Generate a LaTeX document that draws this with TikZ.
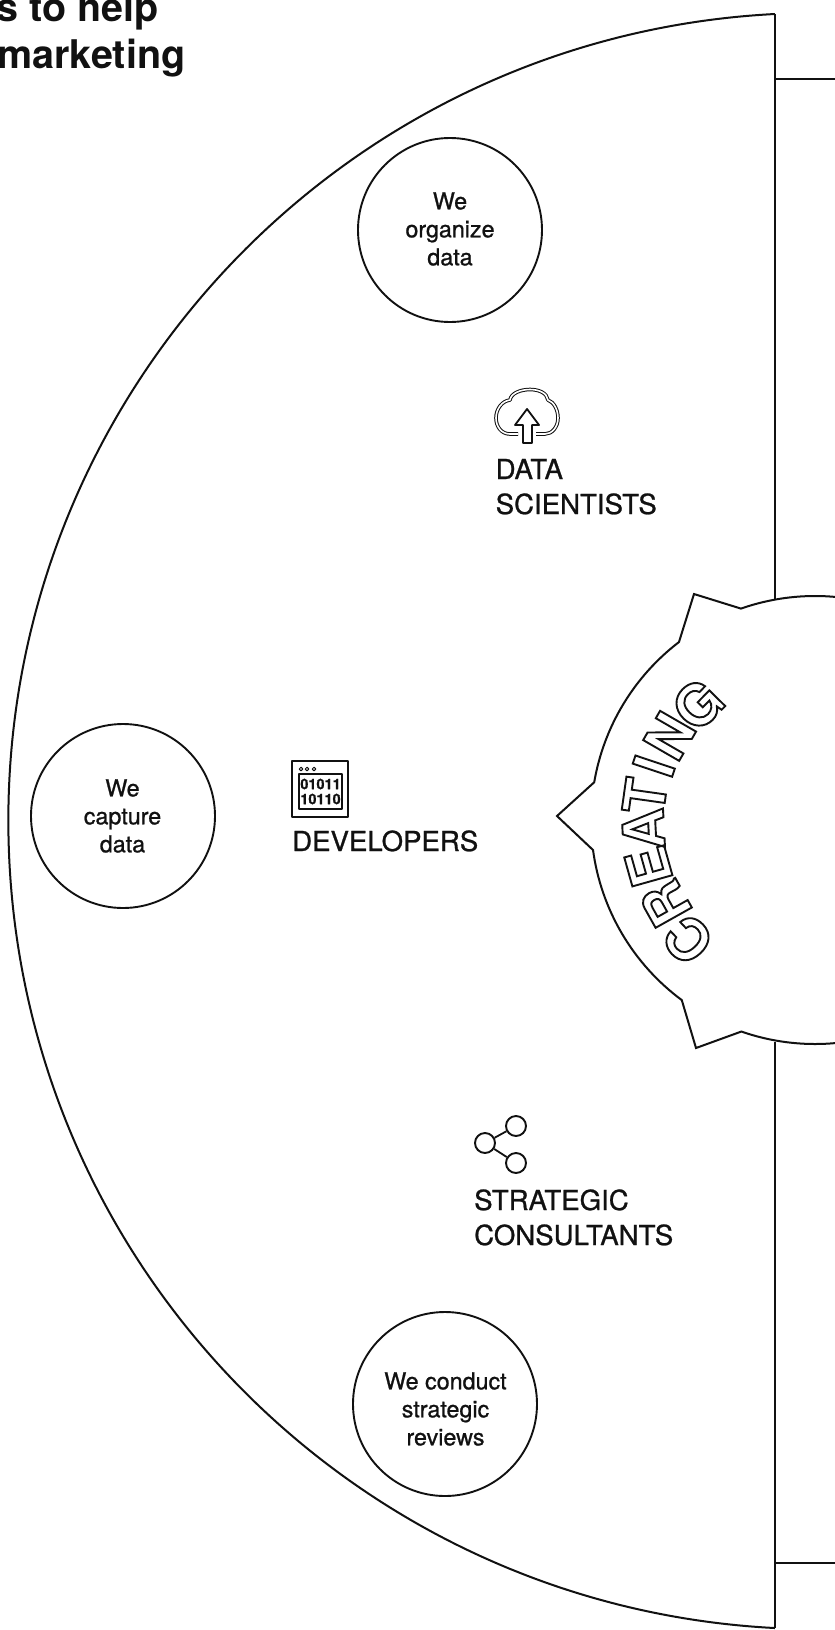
\documentclass[tikz,border=0pt]{standalone}
\usepackage{fontspec}
\setmainfont{TeX Gyre Heros}
\newfontfamily\scanfont[FakeBold=0.9]{TeX Gyre Heros}
\usepackage{xcolor}
\usetikzlibrary{calc}
\definecolor{ScanInk}{HTML}{111111}
\newcommand{\hollow}[1]{\special{pdf:code q 1 Tr 1.9 w 0.07 0.07 0.07 RG}#1\special{pdf:code Q}}
\tikzset{
  frameline/.style={line width=2pt,draw=ScanInk},
  stepcircle/.style={circle,draw=ScanInk,line width=1.9pt,minimum size=184pt,inner sep=0pt},
  steptext/.style={inner sep=0pt,align=center,text=ScanInk,font=\scanfont\fontsize{23.3}{28}\selectfont},
  rolelabel/.style={anchor=base west,inner sep=0pt,align=left,text=ScanInk,font=\scanfont\fontsize{27.6}{35}\selectfont},
  headline/.style={anchor=base east,inner sep=0pt,text=ScanInk,font=\bfseries\fontsize{39.5}{46}\selectfont},
  arcletter/.style={inner sep=0pt,text depth=0pt,font=\bfseries\fontsize{57}{57}\selectfont},
  iconline/.style={line width=1.8pt,draw=ScanInk,line join=round},
  sharedot/.style={circle,draw=ScanInk,line width=1.9pt,minimum size=20pt,inner sep=0pt},
  bitcode/.style={inner sep=0pt,text=ScanInk,font=\scanfont\bfseries\fontsize{14.5}{14}\selectfont}
}
\begin{document}
\begin{tikzpicture}[x=1pt,y=-1pt]
\useasboundingbox (0,0) rectangle (835,1630);
\clip (0,0) rectangle (835,1630);
\node[headline] (helpline) at (159,21) {s to help};
\node[headline] (marketline) at (185.5,68) {marketing};
\draw[frameline] (775,14) arc[start angle=267.06,end angle=92.94,radius=808.1] coordinate (arcend);
\draw[frameline] (775,14) -- (775,600);
\draw[frameline] (775,1042) -- (arcend);
\draw[frameline] (775,79) -- (835,79);
\draw[frameline] (775,1563) -- (835,1563);
\draw[frameline] ($(815,820)+(280:224)$) arc[start angle=280,end angle=250.7,radius=224] -- (694,594) -- ($(815,820)+(232.6:224)$) arc[start angle=232.6,end angle=189.7,radius=224] -- (557,816) -- ($(815,820)+(172.3:224)$) arc[start angle=172.3,end angle=126.5,radius=224] -- (696,1048) -- ($(815,820)+(109.2:224)$) arc[start angle=109.2,end angle=80,radius=224];
\foreach \letter/\ang/\rad in {C/-43.4/175,R/-29.3/171,E/-15.7/173,A/-3/172,T/8/172,I/18.5/170,N/30/168,G/44.5/165}{
  \node[arcletter,rotate=90-\ang] (arc\letter) at ($(815,820)+(180+\ang:\rad)$) {\hollow{\letter}};
}
\node[stepcircle] (organize) at (450,230) {};
\node[stepcircle] (capture) at (123,816) {};
\node[stepcircle] (review) at (445,1404) {};
\node[steptext] (organizetext) at (450,229) {We\\organize\\data};
\node[steptext] (capturetext) at (122.5,816) {We\\capture\\data};
\node[steptext] (reviewtext) at (445.5,1409) {We conduct\\strategic\\reviews};
\node[rolelabel] (scientists) at (495.5,514) {DATA\\SCIENTISTS};
\node[rolelabel] (developers) at (292,851) {DEVELOPERS};
\node[rolelabel] (consultants) at (474,1245) {STRATEGIC\\CONSULTANTS};
\draw[iconline,line width=1pt,double=white,double distance=1.6pt] (518,434) -- (510,434) .. controls (501,434) and (496,426) .. (496,418) .. controls (496,409) and (502,401) .. (510,400) .. controls (511,393) and (521,389.5) .. (530,389.5) .. controls (539,389.5) and (547,393) .. (548,400) .. controls (554,402) and (558,410) .. (558,418) .. controls (558,427) and (552,434) .. (545,434) -- (536,434);
\draw[iconline] (523,443) -- (523,425) -- (515,425) -- (527,409) -- (539,425) -- (532,425) -- (532,443) -- cycle;
\draw[iconline] (292,761) rectangle (348,817);
\draw[iconline] (299,774) rectangle (342,809);
\foreach \dotx in {301,307,314}{
  \draw[iconline,line width=1pt] (\dotx,769) circle[radius=1.8];
}
\node[bitcode] (bitsa) at (320.5,784) {01011};
\node[bitcode] (bitsb) at (320.5,799) {10110};
\node[sharedot] (sharetop) at (516,1126) {};
\node[sharedot] (shareleft) at (485,1143) {};
\node[sharedot] (sharelow) at (516,1163) {};
\draw[iconline] (shareleft) -- (sharetop);
\draw[iconline] (shareleft) -- (sharelow);
\end{tikzpicture}
\end{document}
